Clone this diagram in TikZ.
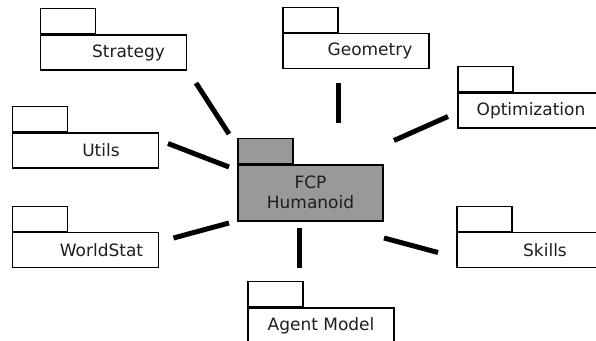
\documentclass[tikz,border=0pt]{standalone}
\usepackage{fontspec}
\setmainfont{DejaVu Sans}
\usepackage{xcolor}
\usepackage{tikz}
\usetikzlibrary{
    positioning,
    calc
}
\definecolor{pkgGray}{RGB}{153, 153, 153}
\definecolor{textDark}{RGB}{30, 30, 30}

\tikzset{
    pkgbody/.style={draw, line width=1.2pt, fill=white, minimum width=146pt, minimum height=35pt, inner sep=0pt},
    pkgtab/.style={draw, line width=1.2pt, fill=white, minimum width=55pt, minimum height=25pt, inner sep=0pt, anchor=south west},
    pkglabel/.style={text=textDark, font=\fontsize{17}{20}\selectfont, inner sep=0pt},
    link/.style={line width=5pt}
}

\begin{document}
\begin{tikzpicture}[x=1pt, y=-1pt]
        \useasboundingbox (0,0) rectangle (596,340);
        % packages round the core
        \node[pkgbody] (strategy) at (113.5,52.5) {};
        \node[pkgtab] (strategy tab) at (strategy.north west) {};
        \node[pkglabel] (strategy label) at ([xshift=15pt]strategy.center) {Strategy};

        \node[pkgbody] (geometry) at (356,51) {};
        \node[pkgtab] (geometry tab) at (geometry.north west) {};
        \node[pkglabel] (geometry label) at ([xshift=14pt]geometry.center) {Geometry};

        \node[pkgbody] (optimization) at (531,110.5) {};
        \node[pkgtab] (optimization tab) at (optimization.north west) {};
        \node[pkglabel] (optimization label) at (optimization.center) {Optimization};

        \node[pkgbody] (utils) at (85.5,150.5) {};
        \node[pkgtab] (utils tab) at (utils.north west) {};
        \node[pkglabel] (utils label) at ([xshift=15.5pt]utils.center) {Utils};

        \node[pkgbody] (worldstat) at (85.5,250) {};
        \node[pkgtab] (worldstat tab) at (worldstat.north west) {};
        \node[pkglabel] (worldstat label) at ([xshift=16pt]worldstat.center) {WorldStat};

        \node[pkgbody] (skills) at (530,250) {};
        \node[pkgtab] (skills tab) at (skills.north west) {};
        \node[pkglabel] (skills label) at ([xshift=15pt]skills.center) {Skills};

        \node[pkgbody] (agent) at (321,325.5) {};
        \node[pkgtab] (agent tab) at (agent.north west) {};
        \node[pkglabel] (agent label) at (agent.center) {Agent Model};

        % the core package
        \node[pkgbody, fill=pkgGray, minimum width=145pt, minimum height=56pt] (fcp) at (310.5,193) {};
        \node[pkgtab, fill=pkgGray] (fcp tab) at (fcp.north west) {};
        \node[pkglabel, align=center] (fcp label) at ([yshift=0.5pt]fcp.center) {FCP\\Humanoid};

        % connector ends
        \coordinate (strategy end) at (196,83);
        \coordinate (strategy core) at (229,134);
        \coordinate (geometry end) at (338,83);
        \coordinate (geometry core) at (338,123);
        \coordinate (optimization end) at (448,116.5);
        \coordinate (optimization core) at (394,140.5);
        \coordinate (utils end) at (168,143.5);
        \coordinate (utils core) at (229,167);
        \coordinate (worldstat end) at (173.5,238);
        \coordinate (worldstat core) at (229,223);
        \coordinate (agent end) at (299,268);
        \coordinate (agent core) at (299,228);
        \coordinate (skills end) at (438,252.5);
        \coordinate (skills core) at (384,238);

        \draw[link] (strategy end) -- (strategy core);
        \draw[link] (geometry end) -- (geometry core);
        \draw[link] (optimization end) -- (optimization core);
        \draw[link] (utils end) -- (utils core);
        \draw[link] (worldstat end) -- (worldstat core);
        \draw[link] (agent end) -- (agent core);
        \draw[link] (skills end) -- (skills core);
    \end{tikzpicture}
\end{document}
